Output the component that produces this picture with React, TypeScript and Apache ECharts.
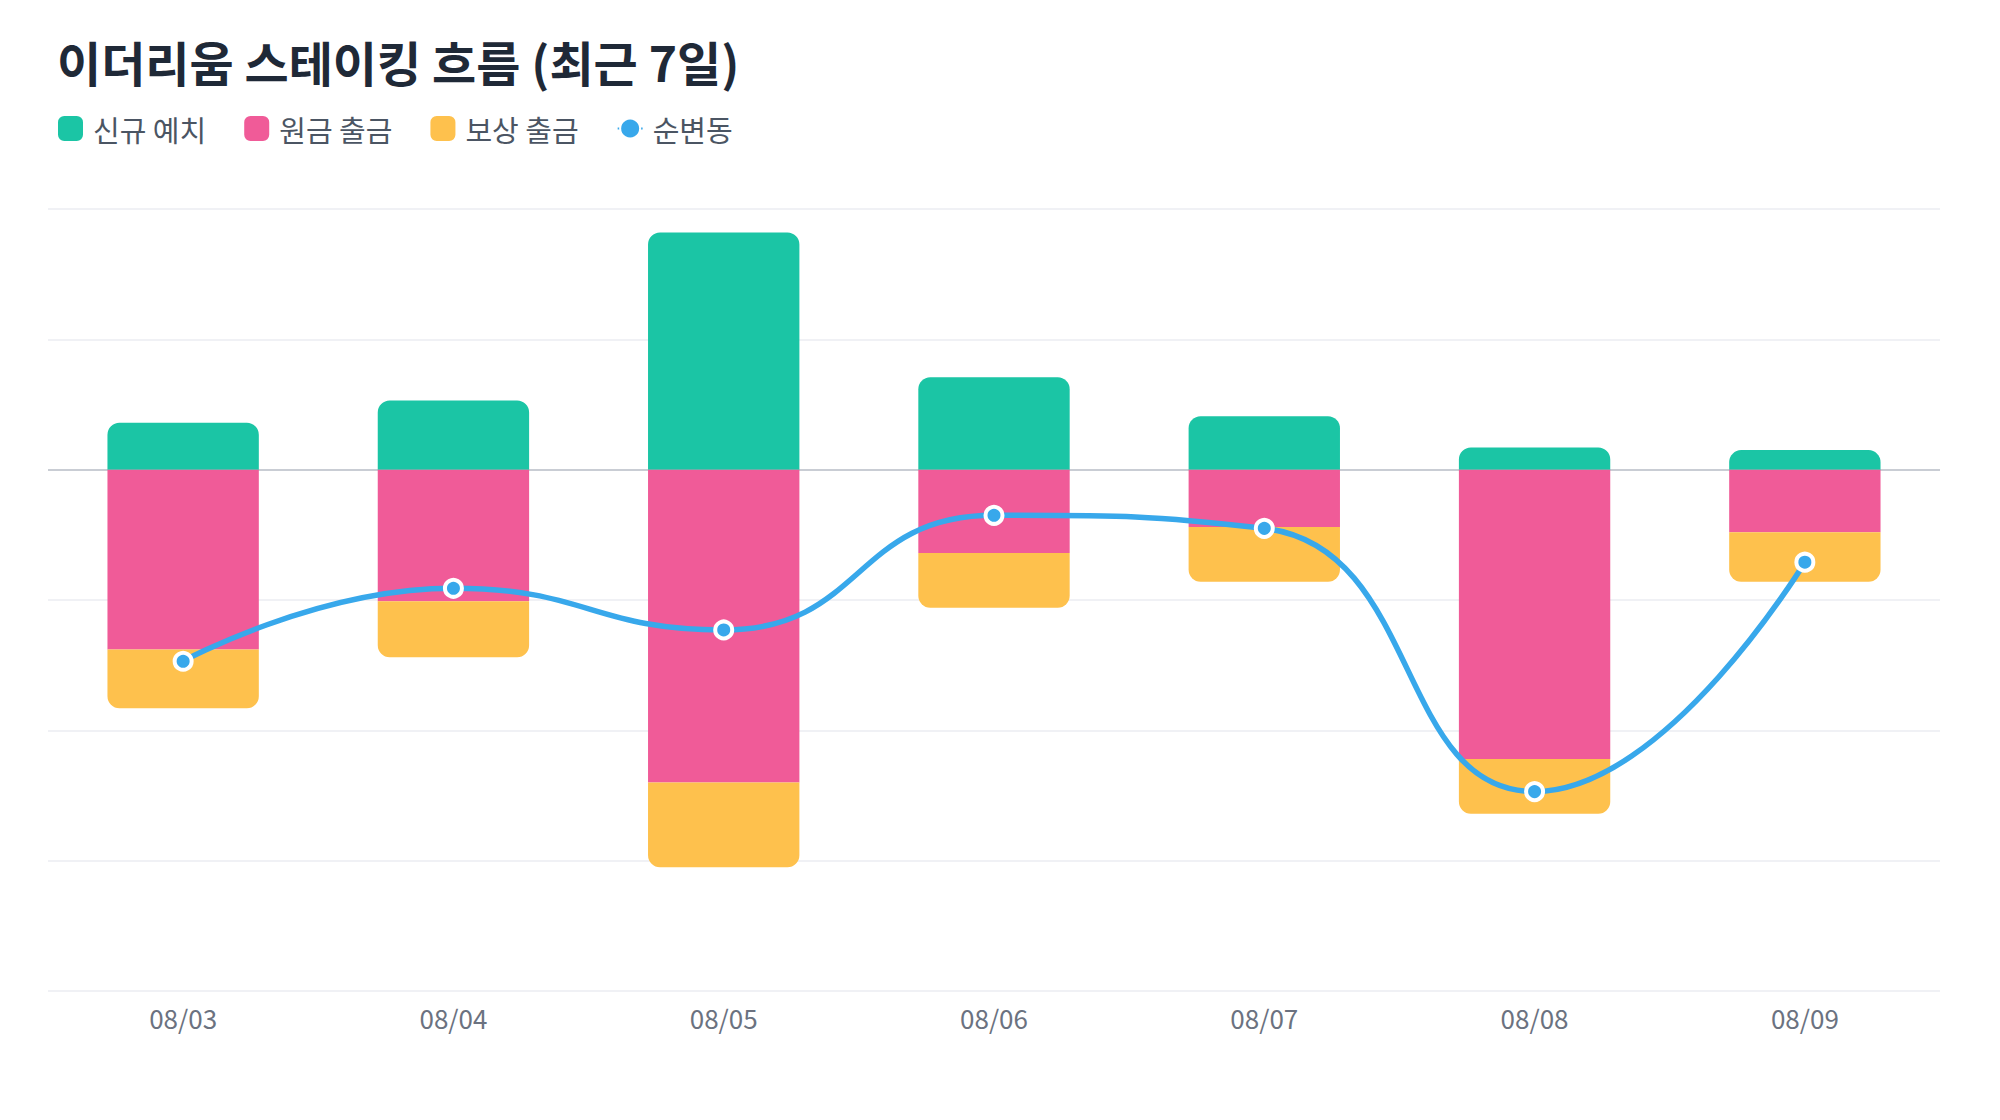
import { useRef, useEffect } from "react";
import * as echarts from "echarts";

const DATES = ["08/03", "08/04", "08/05", "08/06", "08/07", "08/08", "08/09"];

// 단위: 천 ETH (y축 눈금은 숨김)
const NEW_DEPOSITS = [36, 53, 182, 71, 41, 17, 15];
const PRINCIPAL_WITHDRAWALS = [-138, -101, -240, -64, -44, -222, -48];
const REWARD_WITHDRAWALS = [-45, -43, -65, -42, -42, -42, -38];
const NET_CHANGE = [-147, -91, -123, -35, -45, -247, -71];

const Y_MIN = -400;
const Y_MAX = 200;
const Y_STEP = 100;

const FONT = '"Noto Sans CJK KR", "Noto Sans", sans-serif';

export default function App() {
  const chartRef = useRef<HTMLDivElement>(null);

  useEffect(() => {
    document.body.style.margin = "0";
    if (!chartRef.current) return;
    const chart = echarts.init(chartRef.current, undefined, { renderer: "svg" });

    // 0 기준선만 진하게
    const splitColors: string[] = [];
    for (let v = Y_MIN; v <= Y_MAX; v += Y_STEP) splitColors.push(v === 0 ? "#c9cdd4" : "#f0f1f5");

    const option: echarts.EChartsOption = {
      animation: false,
      backgroundColor: "#ffffff",
      textStyle: { fontFamily: FONT },
      title: {
        text: "이더리움 스테이킹 흐름 (최근 7일)",
        left: 52, top: 32,
        textStyle: { fontSize: 48, fontWeight: "bold", color: "#1f2937", fontFamily: FONT },
      },
      legend: {
        left: 53, top: 109,
        itemWidth: 25, itemHeight: 25, itemGap: 38,
        textStyle: { fontSize: 29, color: "#4b5563", fontFamily: FONT, padding: [0, 0, 0, 5] },
        data: [
          { name: "신규 예치", icon: "roundRect" },
          { name: "원금 출금", icon: "roundRect" },
          { name: "보상 출금", icon: "roundRect" },
          { name: "순변동" },
        ],
      },
      grid: { left: 48, right: 60, top: 209, bottom: 129 },
      xAxis: {
        type: "category",
        data: DATES,
        axisLine: { show: false, onZero: false },
        axisTick: { show: false },
        axisLabel: { fontSize: 26, color: "#6b7280", margin: 13, fontFamily: FONT },
      },
      yAxis: {
        type: "value",
        min: Y_MIN, max: Y_MAX, interval: Y_STEP,
        axisLabel: { show: false },
        axisLine: { show: false },
        axisTick: { show: false },
        splitLine: { lineStyle: { color: splitColors, width: 1.8 } },
      },
      series: [
        {
          name: "신규 예치", type: "bar", stack: "flow", barWidth: "56%",
          itemStyle: { color: "#1bc5a5", borderRadius: [12, 12, 0, 0] },
          data: NEW_DEPOSITS,
        },
        {
          name: "원금 출금", type: "bar", stack: "flow", barWidth: "56%",
          itemStyle: { color: "#f05b98" },
          data: PRINCIPAL_WITHDRAWALS,
        },
        {
          name: "보상 출금", type: "bar", stack: "flow", barWidth: "56%",
          itemStyle: { color: "#fec14d", borderRadius: [0, 0, 12, 12] },
          data: REWARD_WITHDRAWALS,
        },
        {
          name: "순변동", type: "line", smooth: true, z: 5,
          symbol: "circle", symbolSize: 17,
          lineStyle: { color: "#38a8eb", width: 5.5 },
          itemStyle: { color: "#38a8eb", borderColor: "#ffffff", borderWidth: 4 },
          data: NET_CHANGE,
        },
      ],
    };
    chart.setOption(option);
    return () => chart.dispose();
  }, []);

  return <div ref={chartRef} style={{ width: 2000, height: 1120 }} />;
}
